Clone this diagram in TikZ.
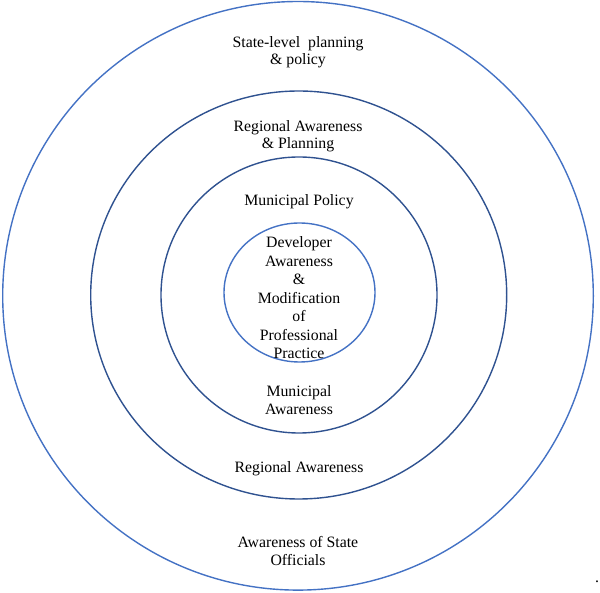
\documentclass[tikz,border=0pt]{standalone}
\usepackage{fontspec}
\setmainfont{Liberation Serif}
\definecolor{lightring}{HTML}{4472C4}
\definecolor{darkring}{HTML}{2F5290}
\begin{document}
\begin{tikzpicture}[x=1pt,y=-1pt,
  ring/.style={line width=1.4pt},
  lbl/.style={align=center,font=\fontsize{15.8}{17.5}\selectfont,inner sep=0pt},
  innerlbl/.style={align=center,font=\fontsize{15.8}{18.5}\selectfont,inner sep=0pt}]
\useasboundingbox (0,0) rectangle (600,593);
\draw[ring,lightring] (298,295.8) ellipse [x radius=295.3,y radius=294.3];
\draw[ring,darkring] (298.7,295) ellipse [x radius=208,y radius=204];
\draw[ring,darkring] (299,295) ellipse [x radius=138,y radius=138];
\draw[ring,lightring] (299.5,292.5) ellipse [x radius=75.5,y radius=69.5];
\node[lbl] (state) at (298,52) {State-level~ planning\\\& policy};
\node[lbl] (regplan) at (298,136) {Regional Awareness\\\& Planning};
\node[lbl] (munpol) at (299,202) {Municipal Policy};
\node[innerlbl] (dev) at (299,298) {Developer\\Awareness\\\&\\Modification\\of\\Professional\\Practice};
\node[lbl] (munaw) at (299,400) {Municipal\\Awareness};
\node[lbl] (regaw) at (299,469) {Regional Awareness};
\node[lbl] (stateoff) at (298,551) {Awareness of State\\Officials};
\node[lbl,anchor=base] (dot) at (597,582) {.};
\end{tikzpicture}
\end{document}
